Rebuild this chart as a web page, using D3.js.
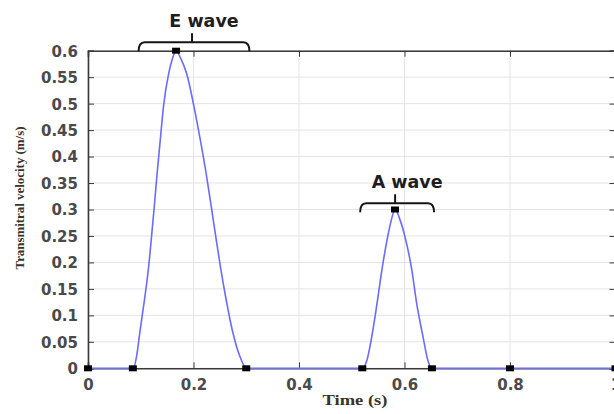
<!DOCTYPE html>
<html>
<head>
<meta charset="utf-8">
<script src="https://cdn.jsdelivr.net/npm/d3@7"></script>
<style>
  html, body { margin: 0; padding: 0; background: #fff; }
  svg { display: block; }
</style>
</head>
<body>
<svg id="chart" width="614" height="414"></svg>
<script>
// Transmitral velocity trace over one cardiac cycle (seconds, m/s)
const timeS = [0, 0.086, 0.093, 0.098, 0.107, 0.115, 0.121, 0.126, 0.131, 0.137, 0.143, 0.153, 0.160, 0.167,
  0.176, 0.187, 0.201, 0.213, 0.224, 0.233, 0.242, 0.251, 0.262, 0.274, 0.287, 0.301,
  0.520, 0.529, 0.538, 0.548, 0.557, 0.568, 0.575, 0.582, 0.592, 0.601, 0.614, 0.623, 0.635, 0.644, 0.652, 1.0];
const velocity = [0, 0, 0.028, 0.066, 0.129, 0.192, 0.255, 0.310, 0.368, 0.431, 0.494, 0.557, 0.585, 0.600,
  0.585, 0.557, 0.494, 0.431, 0.368, 0.310, 0.250, 0.192, 0.129, 0.070, 0.025, 0,
  0, 0.016, 0.060, 0.123, 0.185, 0.248, 0.280, 0.300, 0.279, 0.248, 0.185, 0.123, 0.060, 0.016, 0, 0];

// Key points of the trace (onset, peak, end of each wave)
const markerTime = [0, 0.085, 0.167, 0.300, 0.520, 0.582, 0.652, 0.800, 1.0];
const markerVelocity = [0, 0, 0.600, 0, 0, 0.300, 0, 0, 0];

// Wave annotations: label, span start/end time, brace level (m/s)
const waveNames = ["E wave", "A wave"];
const waveStart = [0.096, 0.516];
const waveEnd = [0.306, 0.656];
const waveLevel = [0.616, 0.312];

const xTicks = [0, 0.2, 0.4, 0.6, 0.8, 1];
const yTicks = [0, 0.05, 0.1, 0.15, 0.2, 0.25, 0.3, 0.35, 0.4, 0.45, 0.5, 0.55, 0.6];

const svg = d3.select("#chart");
const x = d3.scaleLinear().domain([0, 1]).range([88, 615.5]);
const y = d3.scaleLinear().domain([0, 0.6]).range([368.3, 50.7]);

// grid
const grid = svg.append("g");
grid.selectAll("line.gy").data(yTicks).join("line")
  .attr("x1", x(0)).attr("x2", x(1))
  .attr("y1", d => y(d)).attr("y2", d => y(d))
  .attr("stroke", "#e4e4e4").attr("stroke-width", 1);
grid.selectAll("line.gx").data(xTicks).join("line")
  .attr("x1", d => x(d)).attr("x2", d => x(d))
  .attr("y1", y(0)).attr("y2", y(0.6))
  .attr("stroke", "#e4e4e4").attr("stroke-width", 1);

// axes
const tickFont = "'DejaVu Sans', sans-serif";
const yAxis = svg.append("g").attr("transform", `translate(${x(0)},0)`)
  .call(d3.axisLeft(y).tickValues(yTicks).tickSize(-6).tickPadding(10).tickFormat(d3.format("~g")));
const xAxis = svg.append("g").attr("transform", `translate(0,${y(0)})`)
  .call(d3.axisBottom(x).tickValues(xTicks).tickSize(-6).tickPadding(11).tickFormat(d3.format("~g")));
const topAxis = svg.append("g").attr("transform", `translate(0,${y(0.6)})`)
  .call(d3.axisTop(x).tickValues(xTicks).tickSize(-6).tickFormat(""));
const rightAxis = svg.append("g").attr("transform", `translate(${x(1)},0)`)
  .call(d3.axisRight(y).tickValues(yTicks).tickSize(-6).tickFormat(""));
[yAxis, xAxis, topAxis, rightAxis].forEach(a => {
  a.select(".domain").attr("stroke", "#3a3a3a").attr("stroke-width", 1.6);
  a.selectAll(".tick line").attr("stroke", "#3a3a3a").attr("stroke-width", 1);
  a.selectAll("text").attr("font-family", tickFont).attr("font-weight", "bold")
    .attr("font-size", 15).attr("fill", "#4a4a4a");
});
yAxis.selectAll("text").attr("dy", "0.36em");

// trace
const line = d3.line().x((d, i) => x(timeS[i])).y(d => y(d)).curve(d3.curveMonotoneX);
svg.append("path").datum(velocity)
  .attr("d", line)
  .attr("fill", "none")
  .attr("stroke", "#6b6bff")
  .attr("stroke-width", 1.6)
  .attr("stroke-linejoin", "round");

// markers
svg.selectAll("rect.mk").data(markerTime).join("rect")
  .attr("x", d => x(d) - 4)
  .attr("y", (d, i) => y(markerVelocity[i]) - 3)
  .attr("width", 8).attr("height", 6)
  .attr("fill", "#000");

// wave braces and labels
waveNames.forEach((name, i) => {
  const x0 = x(waveStart[i]), x1 = x(waveEnd[i]);
  const yb = y(waveLevel[i]);
  const xm = (x0 + x1) / 2 - 2;
  svg.append("path")
    .attr("d", `M${x0},${yb + 9} Q${x0},${yb} ${x0 + 6},${yb} H${x1 - 6} Q${x1},${yb} ${x1},${yb + 9} M${xm},${yb} V${yb - 9}`)
    .attr("fill", "none").attr("stroke", "#151515").attr("stroke-width", 2);
  svg.append("text")
    .attr("x", xm + 12).attr("y", yb - 15)
    .attr("text-anchor", "middle")
    .attr("font-family", tickFont).attr("font-weight", "bold")
    .attr("font-size", 17.5).attr("fill", "#1e1e1e")
    .text(name);
});

// axis titles
svg.append("text")
  .attr("x", 355).attr("y", 405)
  .attr("text-anchor", "middle")
  .attr("font-family", "'Liberation Serif', serif").attr("font-weight", "bold")
  .attr("font-size", 15).attr("fill", "#3b3226")
  .attr("textLength", 65).attr("lengthAdjust", "spacingAndGlyphs")
  .text("Time (s)");
svg.append("text")
  .attr("transform", "translate(24,198) rotate(-90)")
  .attr("text-anchor", "middle")
  .attr("font-family", "'Liberation Serif', serif").attr("font-weight", "bold")
  .attr("font-size", 13).attr("fill", "#3b3226")
  .attr("textLength", 143).attr("lengthAdjust", "spacingAndGlyphs")
  .text("Transmitral velocity (m/s)");
</script>
</body>
</html>
